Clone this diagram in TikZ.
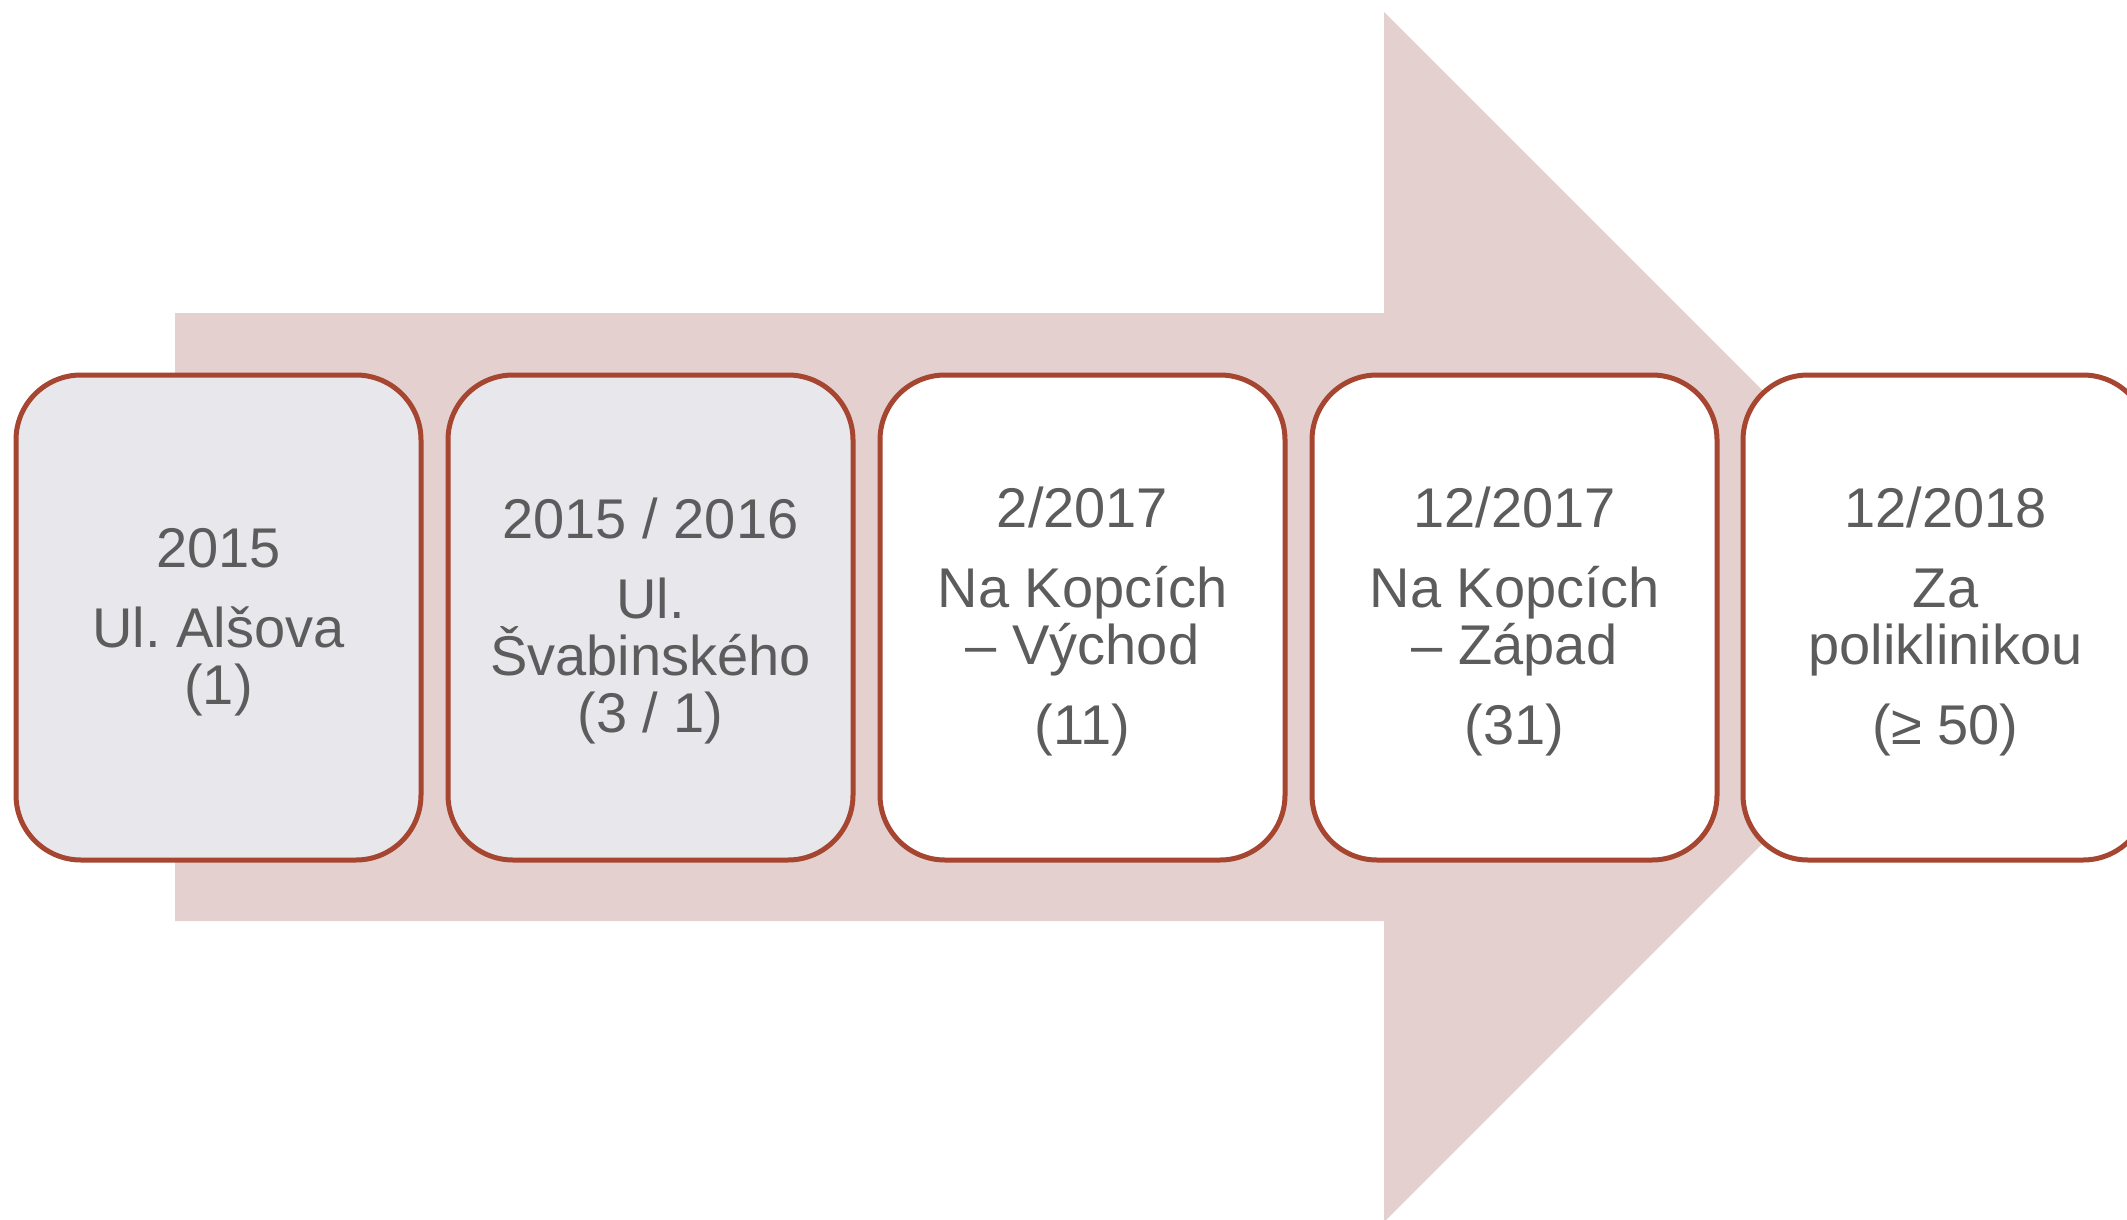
\documentclass[tikz,border=0pt]{standalone}
\usepackage{fontspec}
\setmainfont{Liberation Sans}
\frenchspacing
\definecolor{arrowfill}{RGB}{228,208,207}
\definecolor{boxline}{RGB}{166,69,48}
\definecolor{boxgray}{RGB}{232,231,236}
\definecolor{txt}{RGB}{92,92,92}
\newcommand{\topstr}{\rule{0pt}{48pt}}
\begin{document}
\begin{tikzpicture}[x=1pt,y=-1pt,
  stage/.style={draw=boxline, line width=5pt, rounded corners=65pt,
    minimum width=405pt, minimum height=485pt, inner sep=0pt,
    align=center, text=txt, font=\fontsize{56}{57}\selectfont},
  done/.style={stage, fill=boxgray},
  todo/.style={stage, fill=white}]
\useasboundingbox (0,0) rectangle (2127,1220);
\clip (0,0) rectangle (2127,1220);
\fill[arrowfill] (175,313) -- (1384,313) -- (1384,12) -- (1989,617)
  -- (1384,1222) -- (1384,921) -- (175,921) -- cycle;
\node[done] (b1) at (218.5,617.5) {\topstr 2015\\[23pt]Ul. Alšova\\(1)};
\node[done] (b2) at (650.5,617.5) {\topstr 2015 / 2016\\[23pt]Ul.\\Švabinského\\(3 / 1)};
\node[todo] (b3) at (1082.5,617.5) {\topstr 2/2017\\[23pt]Na Kopcích\\– Východ\\[23pt](11)};
\node[todo] (b4) at (1514.5,617.5) {\topstr 12/2017\\[23pt]Na Kopcích\\– Západ\\[23pt](31)};
\node[todo] (b5) at (1945.5,617.5) {\topstr 12/2018\\[23pt]Za\\poliklinikou\\[23pt](≥ 50)};
\end{tikzpicture}
\end{document}
